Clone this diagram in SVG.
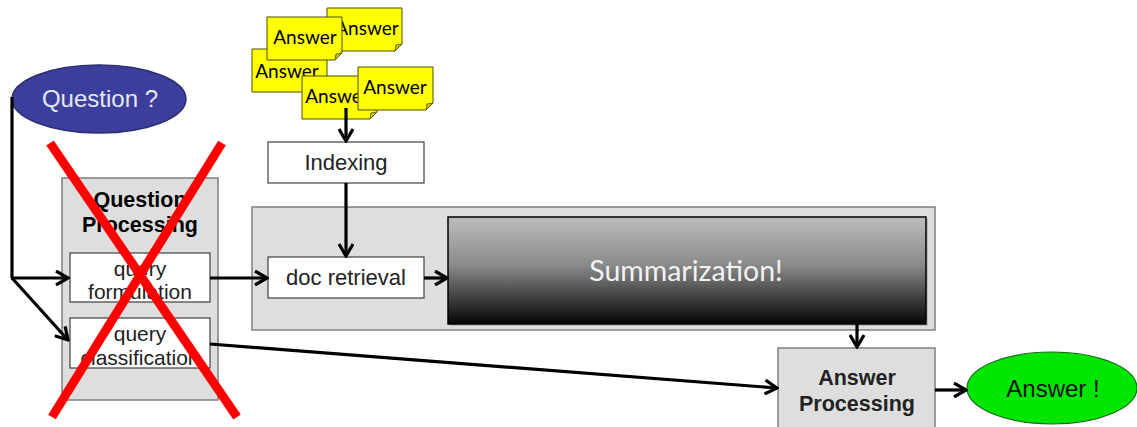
<svg xmlns="http://www.w3.org/2000/svg" width="1137" height="427" viewBox="0 0 1137 427">
  <defs>
    <style>
      .arial { font-family: "Liberation Sans", Arial, sans-serif; }
      .cal { font-family: Lato, "Open Sans", sans-serif; }
      .box { fill: #ffffff; stroke: #404040; stroke-width: 1.2; }
      .panel { fill: #dedede; stroke: #7f7f7f; stroke-width: 1.5; }
      .note { fill: #ffff00; stroke: #4d4d00; stroke-width: 1; }
      .fold { fill: #c8c800; stroke: #4d4d00; stroke-width: 0.8; }
      .conn { fill: none; stroke: #000000; stroke-width: 3.2; }
      .cross { stroke: #ff0000; stroke-width: 9; stroke-linecap: butt; }
    </style>
    <marker id="arrow" viewBox="0 0 16 16" refX="14" refY="8" markerWidth="16" markerHeight="16" orient="auto" markerUnits="userSpaceOnUse">
      <path d="M2,1 L14,8 L2,15" fill="none" stroke="#000" stroke-width="3.2"/>
    </marker>
    <linearGradient id="sumGrad" x1="0" y1="0" x2="0" y2="1">
      <stop offset="0" stop-color="#bdbdbd"/>
      <stop offset="0.45" stop-color="#8a8a8a"/>
      <stop offset="1" stop-color="#050505"/>
    </linearGradient>
    <!-- sticky note with folded bottom-right corner -->
    <g id="stickyNote">
      <path class="note" d="M0,0 H75 V36 L68,43 H0 Z"/>
      <path class="fold" d="M75,36 L68,43 L69,37 Z"/>
    </g>
  </defs>

  <rect width="1137" height="427" fill="#ffffff"/>

  <!-- stack of answer notes -->
  <g id="answers">
    <use href="#stickyNote" x="327" y="8"/>
    <text class="cal" x="367" y="35" font-size="19" text-anchor="middle">Answer</text>
    <use href="#stickyNote" x="252" y="49"/>
    <text class="cal" x="287" y="78" font-size="19" text-anchor="middle">Answer</text>
    <use href="#stickyNote" x="267" y="17"/>
    <text class="cal" x="305" y="44" font-size="19" text-anchor="middle">Answer</text>
    <use href="#stickyNote" x="302" y="76"/>
    <text class="cal" x="337" y="103" font-size="19" text-anchor="middle">Answer</text>
    <use href="#stickyNote" x="358" y="67"/>
    <text class="cal" x="395" y="94" font-size="19" text-anchor="middle">Answer</text>
  </g>

  <!-- question bubble -->
  <g id="question">
    <ellipse cx="99" cy="99" rx="87" ry="34" fill="#3b3f9b" stroke="#2a2d70" stroke-width="1.5"/>
    <text class="arial" x="100" y="107" font-size="24" fill="#e6e6f5" text-anchor="middle">Question ?</text>
  </g>

  <!-- question processing panel -->
  <g id="question-processing">
    <rect class="panel" x="62" y="178" width="156" height="222"/>
    <text class="arial" x="140" y="207" font-size="21.5" font-weight="bold" text-anchor="middle">Question</text>
    <text class="arial" x="140" y="232" font-size="21.5" font-weight="bold" text-anchor="middle">Processing</text>
  </g>
  <g id="query-formulation">
    <rect class="box" x="70" y="253" width="140" height="49"/>
    <text class="arial" x="140" y="276" font-size="21" fill="#222" text-anchor="middle">query</text>
    <text class="arial" x="140" y="299" font-size="21" fill="#222" text-anchor="middle">formulation</text>
  </g>
  <g id="query-classification">
    <rect class="box" x="70" y="318" width="140" height="50"/>
    <text class="arial" x="140" y="341" font-size="21" fill="#222" text-anchor="middle">query</text>
    <text class="arial" x="140" y="365" font-size="21" fill="#222" text-anchor="middle">classification</text>
  </g>

  <!-- indexing -->
  <g id="indexing">
    <rect class="box" x="268" y="142" width="156" height="41"/>
    <text class="arial" x="346" y="170" font-size="22" fill="#222" text-anchor="middle">Indexing</text>
  </g>

  <!-- retrieval and summarization panel -->
  <g id="retrieval-panel">
    <rect class="panel" x="252" y="207" width="683" height="123"/>
  </g>
  <g id="doc-retrieval">
    <rect class="box" x="268" y="257" width="156" height="41"/>
    <text class="arial" x="346" y="285" font-size="22" fill="#222" text-anchor="middle">doc retrieval</text>
  </g>
  <g id="summarization">
    <rect x="450" y="219" width="478" height="107" fill="#9a9a9a" opacity="0.5"/>
    <rect x="448" y="217" width="478" height="107" fill="url(#sumGrad)" stroke="#000" stroke-width="1.5"/>
    <text class="cal" x="686" y="281" font-size="28.5" fill="#f2f2f2" text-anchor="middle">Summarization!</text>
  </g>

  <!-- answer processing -->
  <g id="answer-processing">
    <rect class="panel" x="778" y="348" width="157" height="82"/>
    <text class="arial" x="857" y="385" font-size="21.5" font-weight="bold" fill="#222" text-anchor="middle">Answer</text>
    <text class="arial" x="857" y="411" font-size="21.5" font-weight="bold" fill="#222" text-anchor="middle">Processing</text>
  </g>

  <!-- final answer -->
  <g id="answer">
    <ellipse cx="1052" cy="388" rx="85" ry="36" fill="#00e600" stroke="#1a6b1a" stroke-width="1.2"/>
    <text class="arial" x="1053" y="397" font-size="24" fill="#111" text-anchor="middle">Answer !</text>
  </g>

  <!-- connectors -->
  <g id="connectors">
    <path class="conn" d="M12,97 V278"/>
    <path class="conn" d="M11,278 H68" marker-end="url(#arrow)"/>
    <path class="conn" d="M12,278 L68,340" marker-end="url(#arrow)"/>
    <path class="conn" d="M210,278 H267" marker-end="url(#arrow)"/>
    <path class="conn" d="M346,108 V141" marker-end="url(#arrow)"/>
    <path class="conn" d="M346,183 V256" marker-end="url(#arrow)"/>
    <path class="conn" d="M424,278 H447" marker-end="url(#arrow)"/>
    <path class="conn" d="M857,324 V347" marker-end="url(#arrow)"/>
    <path class="conn" d="M210,344 L777,388" marker-end="url(#arrow)"/>
    <path class="conn" d="M935,390 H966" marker-end="url(#arrow)"/>
  </g>

  <!-- strike-through over question processing -->
  <g id="cross">
    <line class="cross" x1="50" y1="143" x2="237" y2="417"/>
    <line class="cross" x1="222" y1="143" x2="52" y2="417"/>
  </g>
</svg>
